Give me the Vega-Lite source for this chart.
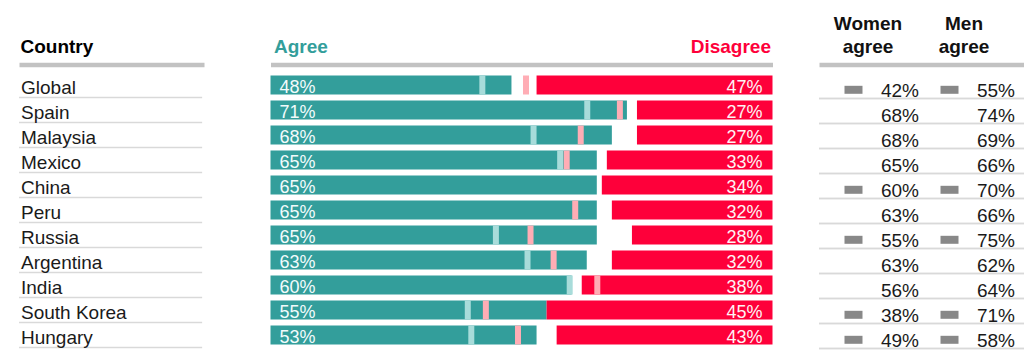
{
  "$schema": "https://vega.github.io/schema/vega-lite/v6.json",
  "background": "white",
  "padding": {"left": 18, "top": 14.5, "right": 0, "bottom": 0},
  "config": {
    "view": {"stroke": null},
    "font": "Liberation Sans",
    "axis": {
      "domainColor": "#c2c2c2",
      "domainWidth": 4.5,
      "ticks": false,
      "grid": false,
      "labelFont": "Liberation Sans",
      "labelFontSize": 19,
      "labelFontWeight": "bold",
      "labelColor": "#111111",
      "labelPadding": 31,
      "labelLineHeight": 23,
      "labelOverlap": false,
      "labelAngle": 0,
      "offset": 8,
      "title": null
    }
  },
  "datasets": {
    "rows": [
      {"country": "Global", "agree": 0.48, "disagree": 0.47, "prev_agree": 0.422, "prev_disagree": 0.491, "women": 0.42, "men": 0.55, "flag": true},
      {"country": "Spain", "agree": 0.71, "disagree": 0.27, "prev_agree": 0.631, "prev_disagree": 0.304, "women": 0.68, "men": 0.74, "flag": false},
      {"country": "Malaysia", "agree": 0.68, "disagree": 0.27, "prev_agree": 0.524, "prev_disagree": 0.382, "women": 0.68, "men": 0.69, "flag": false},
      {"country": "Mexico", "agree": 0.65, "disagree": 0.33, "prev_agree": 0.577, "prev_disagree": 0.41, "women": 0.65, "men": 0.66, "flag": false},
      {"country": "China", "agree": 0.65, "disagree": 0.34, "prev_agree": null, "prev_disagree": null, "women": 0.60, "men": 0.70, "flag": true},
      {"country": "Peru", "agree": 0.65, "disagree": 0.32, "prev_agree": null, "prev_disagree": 0.393, "women": 0.63, "men": 0.66, "flag": false},
      {"country": "Russia", "agree": 0.65, "disagree": 0.28, "prev_agree": 0.449, "prev_disagree": 0.482, "women": 0.55, "men": 0.75, "flag": true},
      {"country": "Argentina", "agree": 0.63, "disagree": 0.32, "prev_agree": 0.512, "prev_disagree": 0.436, "women": 0.63, "men": 0.62, "flag": false},
      {"country": "India", "agree": 0.60, "disagree": 0.38, "prev_agree": 0.596, "prev_disagree": 0.349, "women": 0.56, "men": 0.64, "flag": false},
      {"country": "South Korea", "agree": 0.55, "disagree": 0.45, "prev_agree": 0.393, "prev_disagree": 0.571, "women": 0.38, "men": 0.71, "flag": true},
      {"country": "Hungary", "agree": 0.53, "disagree": 0.43, "prev_agree": 0.40, "prev_disagree": 0.507, "women": 0.49, "men": 0.58, "flag": true}
    ]
  },
  "data": {"name": "rows"},
  "spacing": 45.5,
  "hconcat": [
    {
      "width": 206,
      "height": 275,
      "layer": [
        {
          "mark": {"type": "rule", "color": "#d9d9d9", "strokeWidth": 1.5},
          "encoding": {
            "y": {"field": "country", "type": "nominal", "sort": null, "bandPosition": 1, "scale": {"type": "band", "paddingInner": 0, "paddingOuter": 0}, "axis": null},
            "x": {"datum": 0, "type": "quantitative", "scale": {"domain": [0, 1], "range": [0, 185], "nice": false},
              "axis": {"orient": "top", "values": [0], "labelExpr": "[' ', 'Country']", "labelAlign": "left", "labelOffset": 1, "labelColor": "#000000"}},
            "x2": {"datum": 0.99}
          }
        },
        {
          "mark": {"type": "text", "align": "left", "baseline": "alphabetic", "dx": 2, "dy": 9, "fontSize": 19, "color": "#1a1a1a"},
          "encoding": {
            "y": {"field": "country", "type": "nominal", "sort": null},
            "x": {"datum": 0, "type": "quantitative"},
            "text": {"field": "country"}
          }
        }
      ]
    },
    {
      "width": 502,
      "height": 275,
      "resolve": {"scale": {"x": "independent"}},
      "layer": [
        {
          "layer": [
            {
              "mark": {"type": "bar", "color": "#339e9b"},
              "encoding": {
                "y": {"field": "country", "type": "nominal", "sort": null, "scale": {"type": "band", "paddingInner": 0.24, "paddingOuter": 0.12}, "axis": null},
                "x": {"field": "agree", "type": "quantitative", "scale": {"domain": [0, 1], "nice": false},
                  "axis": {"orient": "top", "values": [0, 1],
                    "labelExpr": "datum.value == 0 ? [' ', 'Agree'] : [' ', 'Disagree']",
                    "labelColor": {"condition": {"test": "datum.value == 0", "value": "#339e9b"}, "value": "#fe003a"},
                    "labelOffset": {"condition": {"test": "datum.value == 0", "value": 3}, "value": -2}}}
              }
            },
            {
              "mark": {"type": "tick", "color": "#a8dcda", "thickness": 6, "size": 19, "opacity": 1},
              "encoding": {
                "y": {"field": "country", "type": "nominal", "sort": null},
                "x": {"field": "prev_agree", "type": "quantitative"}
              }
            },
            {
              "mark": {"type": "text", "align": "left", "baseline": "alphabetic", "dx": 9, "dy": 8, "fontSize": 18, "color": "#f2fbfb"},
              "encoding": {
                "y": {"field": "country", "type": "nominal", "sort": null},
                "x": {"datum": 0, "type": "quantitative"},
                "text": {"field": "agree", "format": ".0%"}
              }
            }
          ]
        },
        {
          "layer": [
            {
              "mark": {"type": "bar", "color": "#fe003a"},
              "encoding": {
                "y": {"field": "country", "type": "nominal", "sort": null},
                "x": {"field": "disagree", "type": "quantitative", "scale": {"domain": [0, 1], "nice": false, "reverse": true}, "axis": null}
              }
            },
            {
              "mark": {"type": "tick", "color": "#ffadb5", "thickness": 6, "size": 19, "opacity": 1},
              "encoding": {
                "y": {"field": "country", "type": "nominal", "sort": null},
                "x": {"field": "prev_disagree", "type": "quantitative"}
              }
            },
            {
              "mark": {"type": "text", "align": "right", "baseline": "alphabetic", "dx": -10, "dy": 8, "fontSize": 18, "color": "#fff2f4"},
              "encoding": {
                "y": {"field": "country", "type": "nominal", "sort": null},
                "x": {"datum": 0, "type": "quantitative"},
                "text": {"field": "disagree", "format": ".0%"}
              }
            }
          ]
        }
      ]
    },
    {
      "width": 207,
      "height": 275,
      "transform": [{"fold": ["women", "men"], "as": ["group", "share"]}],
      "layer": [
        {
          "mark": {"type": "rule", "color": "#d9d9d9", "strokeWidth": 1.5, "yOffset": 1},
          "encoding": {
            "y": {"field": "country", "type": "nominal", "sort": null, "bandPosition": 1, "scale": {"type": "band", "paddingInner": 0, "paddingOuter": 0}, "axis": null}
          }
        },
        {
          "transform": [{"filter": "datum.flag"}],
          "mark": {"type": "point", "shape": "M-1,-0.444L1,-0.444L1,0.444L-1,0.444Z", "size": 324, "filled": true, "opacity": 1, "color": "#888888", "strokeWidth": 0, "xOffset": -21, "yOffset": 4.8},
          "encoding": {
            "y": {"field": "country", "type": "nominal", "sort": null},
            "x": {"field": "group", "type": "nominal"}
          }
        },
        {
          "mark": {"type": "text", "align": "right", "baseline": "alphabetic", "dx": 44.5, "dy": 11.5, "fontSize": 19, "color": "#1a1a1a"},
          "encoding": {
            "y": {"field": "country", "type": "nominal", "sort": null},
            "x": {"field": "group", "type": "nominal",
              "scale": {"type": "band", "domain": ["women", "men"], "paddingInner": 0, "paddingOuter": 0.078},
              "axis": {"orient": "top", "labelExpr": "datum.value == 'women' ? ['Women', 'agree'] : ['Men', 'agree']", "labelOffset": -6.5, "labelPadding": 50, "labelColor": "#111111"}},
            "text": {"field": "share", "format": ".0%"}
          }
        }
      ]
    }
  ]
}
